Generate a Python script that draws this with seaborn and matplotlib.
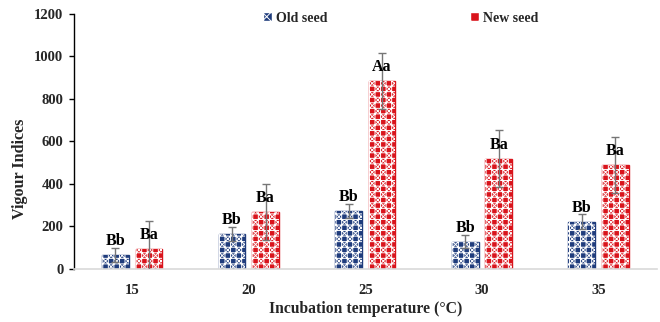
import numpy as np
import pandas as pd
import matplotlib
matplotlib.use("Agg")
import matplotlib.pyplot as plt
from matplotlib.patches import Rectangle
import seaborn as sns

temperatures = ["15", "20", "25", "30", "35"]
old_seed = [66, 162, 269, 126, 220]
new_seed = [91, 266, 885, 517, 489]
old_err = [33, 33, 33, 31, 36]
new_err = [134, 132, 131, 134, 132]
old_letters = ["Bb", "Bb", "Bb", "Bb", "Bb"]
new_letters = ["Ba", "Ba", "Aa", "Ba", "Ba"]
series = ["Old seed", "New seed"]

sns.set_theme(style="white")
plt.rcParams["font.family"] = ["Liberation Serif", "DejaVu Serif"]
plt.rcParams["font.weight"] = "bold"
plt.rcParams["hatch.linewidth"] = 0.7

df = pd.DataFrame({
    "temp": temperatures * 2,
    "value": old_seed + new_seed,
    "seed": [series[0]] * 5 + [series[1]] * 5,
})

colors = {"Old seed": "#1F3C7C", "New seed": "#D9141C"}
pattern = "+++xxx"

fig = plt.figure(figsize=(6.6, 3.22), dpi=100)
ax = fig.add_axes([0.112, 0.166, 0.883, 0.791])

sns.barplot(data=df, x="temp", y="value", hue="seed", palette=colors,
            order=temperatures, hue_order=series, width=0.575, gap=0.2,
            errorbar=None, ax=ax, saturation=1)

errs = [old_err, new_err]
vals = [old_seed, new_seed]
letters = [old_letters, new_letters]
bar_groups = list(ax.containers)
for k, cont in enumerate(bar_groups):
    col = colors[series[k]]
    for i, bar in enumerate(cont):
        bar.set_edgecolor(col)
        bar.set_linewidth(1.0)
        # white fill pattern laid over the bar
        ax.add_patch(Rectangle((bar.get_x(), bar.get_y()), bar.get_width(),
                               bar.get_height(), fill=False, edgecolor="white",
                               linewidth=0, hatch=pattern, zorder=bar.get_zorder() + 0.1))
        xc = bar.get_x() + bar.get_width() / 2
        ax.errorbar(xc, vals[k][i], yerr=errs[k][i], fmt="none",
                    ecolor="#767676", elinewidth=1.0, capsize=2.6, capthick=1.0,
                    zorder=5)
        ax.annotate(letters[k][i], (xc, vals[k][i]), xytext=(0, 7.2),
                    textcoords="offset points", ha="center", va="baseline",
                    fontsize=11.5, fontweight="bold", color="black", zorder=6)

ax.set_ylim(0, 1200)
ax.set_yticks(np.arange(0, 1201, 200))
ax.set_xlim(-0.5, 4.5)
ax.tick_params(axis="y", left=True, length=3.6, width=1, color="black",
               labelsize=10.5, pad=4)
ax.tick_params(axis="x", bottom=False, labelsize=10.5, pad=5)
for lab in ax.get_xticklabels() + ax.get_yticklabels():
    lab.set_fontweight("bold")

ax.set_xlabel("Incubation temperature (°C)", fontsize=11.3, fontweight="bold",
              labelpad=3)
ax.set_ylabel("Vigour Indices", fontsize=11.6, fontweight="bold")
ax.yaxis.set_label_coords(-0.079, 0.39)

for s in ["top", "right"]:
    ax.spines[s].set_visible(False)
ax.spines["left"].set_color("black")
ax.spines["left"].set_linewidth(1.0)
ax.spines["bottom"].set_color("#D9D9D9")
ax.spines["bottom"].set_linewidth(1.2)

leg = ax.legend(loc="upper center", bbox_to_anchor=(0.561, 1.03), ncol=2,
                frameon=False, fontsize=10, handlelength=0.6, handleheight=0.6,
                handletextpad=0.3, columnspacing=10.3, borderaxespad=0.0)
for t in leg.get_texts():
    t.set_fontweight("bold")
for h in leg.legend_handles:
    h.set_hatch("xx")

fig.savefig("out.png", dpi=100)
